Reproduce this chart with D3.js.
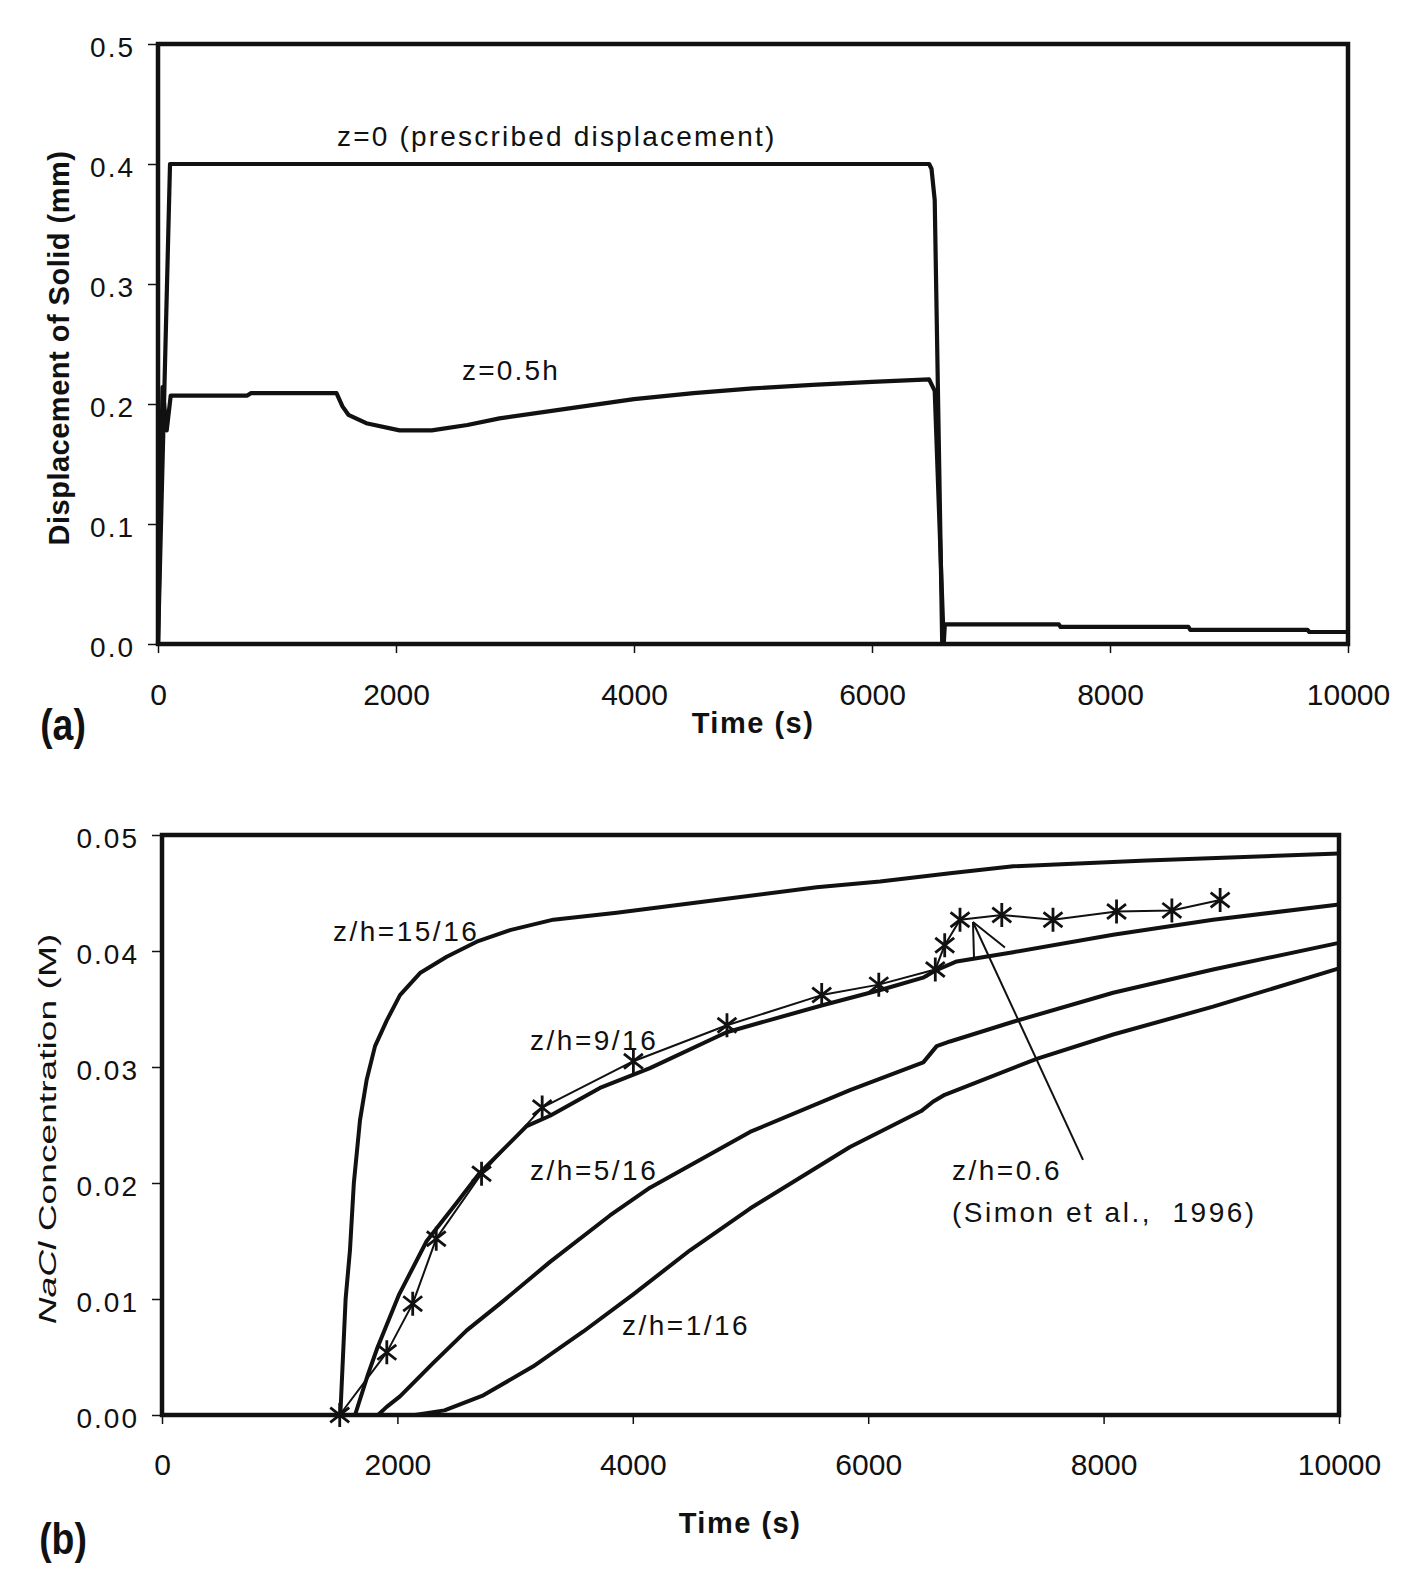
<!DOCTYPE html>
<html>
<head>
<meta charset="utf-8">
<script src="https://cdn.jsdelivr.net/npm/d3@7"></script>
<style>
  body { margin: 0; background: #fff; }
  text { font-family: "Liberation Sans", Arial, sans-serif; fill: #111; white-space: pre; }
</style>
</head>
<body>
<div id="chart"></div>
<script>
// tick values
var timeTicks = [0, 2000, 4000, 6000, 8000, 10000];
var dispTicks = [0, 0.1, 0.2, 0.3, 0.4, 0.5];
var concTicks = [0, 0.01, 0.02, 0.03, 0.04, 0.05];

// (a) displacement of solid (mm), z=0 (prescribed)
var tZ0 = [0, 101, 6480, 6500, 6527, 6590, 10000];
var uZ0 = [0, 0.4, 0.4, 0.396, 0.37, 0, 0];

// (a) z=0.5h
var tZh = [0, 38, 73, 107, 750, 780, 1500, 1550, 1600, 1750, 2030, 2300, 2600, 2870, 3500, 4000,
           4500, 5000, 5500, 6000, 6480, 6527, 6603, 6612, 7570, 7585, 8660, 8675, 9660, 9675, 10000];
var uZh = [0, 0.214, 0.178, 0.207, 0.207, 0.209, 0.209, 0.198, 0.191, 0.184, 0.178, 0.178, 0.1825, 0.188, 0.197, 0.204,
           0.209, 0.213, 0.216, 0.2185, 0.2205, 0.211, 0, 0.0164, 0.0164, 0.0142, 0.0142, 0.0117, 0.0117, 0.0100, 0.0100];

// (b) NaCl concentration (M)
var t15 = [0, 1515, 1560, 1597, 1630, 1682, 1739, 1810, 1909, 2022, 2192, 2419, 2674, 2957, 3325, 3863, 4713, 5562, 6100, 6695, 7232, 8366, 10000];
var c15 = [0, 0, 0.01, 0.0142, 0.02, 0.0254, 0.0289, 0.0318, 0.034, 0.0362, 0.0381, 0.0395, 0.0408, 0.0418, 0.0427, 0.0433, 0.0444, 0.0455, 0.046, 0.0467, 0.0473, 0.0478, 0.0484];

var t9 = [0, 1640, 1750, 1830, 2015, 2249, 2504, 2702, 3098, 3297, 3721, 4146, 4797, 5604, 6126, 6466, 6568, 6752, 7232, 8081, 8930, 10000];
var c9 = [0, 0, 0.0035, 0.0058, 0.0104, 0.015, 0.0183, 0.0209, 0.0249, 0.0258, 0.0282, 0.0299, 0.033, 0.0353, 0.0367, 0.0377, 0.0383, 0.0391, 0.0399, 0.0414, 0.0427, 0.044];

var t5 = [0, 1835, 1909, 2022, 2305, 2589, 2872, 3297, 3806, 4146, 4996, 5845, 6468, 6582, 6695, 7232, 8081, 8930, 10000];
var c5 = [0, 0, 0.0007, 0.0016, 0.0045, 0.0073, 0.0096, 0.0132, 0.0172, 0.0196, 0.0244, 0.028, 0.0304, 0.0318, 0.0322, 0.0339, 0.0364, 0.0384, 0.0407];

var t1 = [0, 2150, 2400, 2730, 3155, 3580, 4004, 4486, 4996, 5845, 6450, 6550, 6650, 7431, 8081, 8930, 10000];
var c1 = [0, 0, 0.0004, 0.0017, 0.0042, 0.0072, 0.0104, 0.0142, 0.0178, 0.0231, 0.0262, 0.027, 0.0276, 0.0307, 0.0328, 0.0352, 0.0385];

// measured, z/h=0.6 (Simon et al., 1996)
var tSimon = [1510, 1910, 2130, 2330, 2715, 3230, 4005, 4800, 5605, 6090, 6570, 6650, 6780, 7135, 7570, 8110, 8580, 8990];
var cSimon = [0, 0.0054, 0.0096, 0.0152, 0.0208, 0.0265, 0.0305, 0.0336, 0.0362, 0.0371, 0.0384, 0.0405, 0.0427, 0.0431, 0.0427, 0.0434, 0.0435, 0.0444];

// annotation arrow (time, conc)
var arrowTail = [7825, 0.022];
var arrowTip = [6890, 0.0425];
var arrowBarbs = [[6899, 0.0394], [7162, 0.0403]];

// curve labels: [time, value, text]
var labelsA = [[1504, 0.415, "z=0 (prescribed displacement)"], [2555, 0.22, "z=0.5h"]];
var labelsB = [[1453, 0.0409, "z/h=15/16"], [3127, 0.03147, "z/h=9/16"], [3127, 0.02026, "z/h=5/16"],
               [3908, 0.0069, "z/h=1/16"], [6712, 0.02026, "z/h=0.6"], [6712, 0.01664, "(Simon et al.,  1996)"]];

var W = 1415, H = 1580, ink = "#111";

var svg = d3.select("#chart").append("svg")
    .attr("width", W)
    .attr("height", H);

var boxA = {left: 158, right: 1348, top: 44, bottom: 644};
var boxB = {left: 162, right: 1339, top: 835, bottom: 1415};

var xA = d3.scaleLinear().domain([0, 10000]).range([boxA.left, boxA.right]);
var yA = d3.scaleLinear().domain([0, 0.5]).range([boxA.bottom, boxA.top]);
var xB = d3.scaleLinear().domain([0, 10000]).range([boxB.left, boxB.right]);
var yB = d3.scaleLinear().domain([0, 0.05]).range([boxB.bottom, boxB.top]);

// axes + frame for one panel
function drawAxes(x, y, box, yVals, yFmt, xPad) {
    var gx = svg.append("g")
        .attr("transform", "translate(0," + box.bottom + ")")
        .call(d3.axisBottom(x).tickValues(timeTicks).tickSize(9).tickPadding(xPad).tickFormat(d3.format("d")));
    var gy = svg.append("g")
        .attr("transform", "translate(" + box.left + ",0)")
        .call(d3.axisLeft(y).tickValues(yVals).tickSize(10).tickPadding(13).tickFormat(d3.format(yFmt)));
    [gx, gy].forEach(function(g) {
        g.select(".domain").remove();
        g.selectAll("line").attr("stroke", ink).attr("stroke-width", 1.5);
        g.selectAll("text").attr("fill", ink).style("font-family", '"Liberation Sans", Arial, sans-serif');
    });
    gx.selectAll("text").style("font-size", "30px");
    gy.selectAll("text").style("font-size", "28px").style("letter-spacing", "2px").attr("dy", "0.43em");

    // border of plot area
    svg.append("rect")
        .attr("x", box.left)
        .attr("y", box.top)
        .attr("width", box.right - box.left)
        .attr("height", box.bottom - box.top)
        .style("fill", "none")
        .style("stroke", ink)
        .style("stroke-width", 4.5);
}

function drawSeries(x, y, ts, vs, width) {
    var line = d3.line()
        .x(function(d) { return x(d[0]); })
        .y(function(d) { return y(d[1]); });
    svg.append("path")
        .datum(d3.zip(ts, vs))
        .attr("d", line)
        .style("fill", "none")
        .style("stroke", ink)
        .style("stroke-width", width)
        .style("stroke-linejoin", "round")
        .style("stroke-linecap", "round");
}

function drawLabels(x, y, list, size, spacing) {
    svg.selectAll(null)
        .data(list)
        .enter().append("text")
        .attr("x", function(d) { return x(d[0]); })
        .attr("y", function(d) { return y(d[1]); })
        .style("font-size", size + "px")
        .style("letter-spacing", spacing + "px")
        .text(function(d) { return d[2]; });
}

// ---------- panel (a) ----------
drawAxes(xA, yA, boxA, dispTicks, ".1f", 31);
drawSeries(xA, yA, tZh, uZh, 4.2);
drawSeries(xA, yA, tZ0, uZ0, 4.2);
drawLabels(xA, yA, labelsA, 28, 2.2);

svg.append("text")
    .attr("transform", "translate(69,348) rotate(-90)")
    .attr("text-anchor", "middle")
    .style("font-size", "29px")
    .style("font-weight", "bold")
    .style("letter-spacing", "0.5px")
    .text("Displacement of Solid (mm)");

svg.append("text")
    .attr("x", 753).attr("y", 733)
    .attr("text-anchor", "middle")
    .style("font-size", "29px")
    .style("font-weight", "bold")
    .style("letter-spacing", "1.5px")
    .text("Time (s)");

svg.append("text")
    .attr("transform", "translate(63,740) scale(0.85,1)")
    .attr("text-anchor", "middle")
    .style("font-size", "44px")
    .style("font-weight", "bold")
    .text("(a)");

// ---------- panel (b) ----------
drawAxes(xB, yB, boxB, concTicks, ".2f", 30);
drawSeries(xB, yB, t1, c1, 4);
drawSeries(xB, yB, t5, c5, 4);
drawSeries(xB, yB, t9, c9, 4);
drawSeries(xB, yB, t15, c15, 4);
drawSeries(xB, yB, tSimon, cSimon, 2);

// asterisk markers for the measured points
var r = 12, a = 38 * Math.PI / 180;
var starPath = "M0," + (-r) + "L0," + r +
    "M" + (-r * Math.cos(a)) + "," + (-r * Math.sin(a)) + "L" + (r * Math.cos(a)) + "," + (r * Math.sin(a)) +
    "M" + (-r * Math.cos(a)) + "," + (r * Math.sin(a)) + "L" + (r * Math.cos(a)) + "," + (-r * Math.sin(a));
svg.selectAll(".star")
    .data(d3.zip(tSimon, cSimon))
    .enter().append("path")
    .attr("class", "star")
    .attr("transform", function(d) { return "translate(" + xB(d[0]) + "," + yB(d[1]) + ")"; })
    .attr("d", starPath)
    .style("fill", "none")
    .style("stroke", ink)
    .style("stroke-width", 2.8);

// arrow pointing at the measured curve
var arrowLines = [[arrowTail, arrowTip], [arrowTip, arrowBarbs[0]], [arrowTip, arrowBarbs[1]]];
svg.selectAll(".arrow")
    .data(arrowLines)
    .enter().append("line")
    .attr("class", "arrow")
    .attr("x1", function(d) { return xB(d[0][0]); })
    .attr("y1", function(d) { return yB(d[0][1]); })
    .attr("x2", function(d) { return xB(d[1][0]); })
    .attr("y2", function(d) { return yB(d[1][1]); })
    .style("stroke", ink)
    .style("stroke-width", 2);

drawLabels(xB, yB, labelsB, 28, 2.5);

var yt = svg.append("text")
    .attr("transform", "translate(56,1129) rotate(-90) scale(1.55,1)")
    .attr("text-anchor", "middle")
    .style("font-size", "24px");
yt.append("tspan").style("font-style", "italic").text("NaCl");
yt.append("tspan").text(" Concentration (M)");

svg.append("text")
    .attr("x", 740).attr("y", 1533)
    .attr("text-anchor", "middle")
    .style("font-size", "29px")
    .style("font-weight", "bold")
    .style("letter-spacing", "1.5px")
    .text("Time (s)");

svg.append("text")
    .attr("transform", "translate(63,1554) scale(0.85,1)")
    .attr("text-anchor", "middle")
    .style("font-size", "44px")
    .style("font-weight", "bold")
    .text("(b)");
</script>
</body>
</html>
